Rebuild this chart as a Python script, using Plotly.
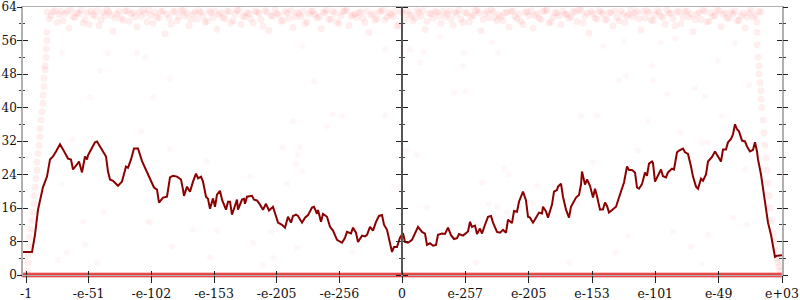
import plotly.graph_objects as go

# ---------------- data ----------------
tick_pos = [0, 62.7, 125.3, 188, 250.7, 313.3, 376, 439.3, 502.7, 566, 629.3, 692.7, 756]
tick_labels = ["-1", "-e-51", "-e-102", "-e-153", "-e-205", "-e-256", "0",
               "e-257", "e-205", "e-153", "e-101", "e-49", "e+03"]
y_ticks = [0, 8, 16, 24, 32, 40, 48, 56, 64]
y_minor = [4, 12, 20, 28, 36, 44, 52, 60]

line_x = [-3, 6, 9, 12, 17, 21, 24, 27, 30, 34, 37, 42, 45, 47, 51, 53, 56, 59, 61, 62, 64, 67, 69, 71, 74, 77, 80, 82, 84, 87,
          92, 96, 100, 102, 105, 108, 112, 116, 119, 122, 126, 128, 131, 133, 137, 141, 144, 147, 151, 155, 157, 158, 161, 164,
          167, 170, 172, 175, 177, 180, 182, 184, 187, 189, 191, 194, 196, 197, 200, 202, 204, 206, 208, 211, 212, 216, 218, 219,
          221, 226, 228, 231, 234, 237, 240, 243, 247, 249, 252, 256, 259, 262, 265, 267, 270, 272, 276, 279, 282, 286, 288, 291,
          292, 295, 297, 301, 304, 307, 311, 316, 319, 321, 325, 327, 330, 332, 336, 339, 341, 344, 347, 350, 353, 356, 358, 361,
          363, 366, 368, 371, 374, 377, 379, 382, 386, 389, 392, 396, 399, 401, 404, 407, 410, 412, 416, 419, 422, 425, 428, 431,
          433, 437, 440, 442, 444, 446, 449, 451, 454, 456, 459, 462, 465, 467, 471, 474, 477, 480, 482, 486, 488, 491, 493, 495,
          497, 500, 502, 504, 507, 511, 513, 516, 517, 520, 522, 526, 528, 531, 532, 535, 537, 540, 543, 545, 547, 550, 553, 555,
          556, 559, 561, 564, 567, 569, 571, 574, 577, 579, 581, 583, 587, 590, 593, 596, 598, 601, 603, 606, 609, 611, 613, 616,
          619, 621, 623, 626, 627, 629, 632, 635, 637, 640, 642, 646, 648, 651, 653, 657, 659, 662, 665, 667, 670, 672, 675, 677,
          680, 682, 686, 689, 692, 695, 697, 700, 702, 705, 707, 709, 711, 713, 716, 719, 721, 724, 727, 729, 731, 732, 735, 737,
          740, 742, 745, 747, 749, 751, 756]
line_y = [5.5, 5.5, 9.6, 15.6, 21, 23.5, 27.6, 28.3, 29.5, 31.2, 30, 27.8, 27.6, 25.2, 26.4, 27.1, 24.5, 28.3, 27.6, 28.6,
          29.5, 30.7, 31.7, 31.9, 30.7, 29.3, 28.3, 24.7, 22.8, 22.5, 21.3, 22.3, 25.9, 25.6, 27.6, 30.2, 30.2, 27.2, 25.7, 24,
          22.3, 20.9, 20.4, 17.3, 18.5, 18.7, 23.3, 23.7, 23.5, 22.8, 20.4, 18.9, 21.1, 19.9, 22.3, 24.2, 23.1, 23.5, 22.3, 18.7,
          18.2, 15.8, 18.3, 16.3, 19.2, 20.1, 18.0, 17.3, 15.6, 17.5, 17.5, 14.4, 16.1, 18, 15.6, 18, 18.2, 17, 18.7, 18.9,
          18, 17.8, 16.8, 15.6, 17, 15.4, 16.3, 14.9, 12.5, 12, 11.3, 13.9, 12.5, 14.1, 14.4, 14.1, 12.5, 13.7, 14.3, 16.1,
          16.3, 14.6, 15.5, 12.7, 14.6, 13.9, 11.5, 10.6, 8.4, 7.7, 8.9, 10.3, 9.9, 11.3, 10.1, 7.9, 9.4, 9.2, 9.6, 11.5,
          10.6, 12.7, 14.1, 14.3, 12, 10.8, 8.9, 5.5, 6.7, 6.7, 8.9, 10, 7.9, 7.7, 8.4, 10, 11.5, 10.3, 9.9, 7.2,
          7.6, 7, 7.2, 9.6, 9.9, 9.8, 11.3, 9.5, 8.6, 8.8, 9.8, 9.4, 10, 10.4, 12.7, 11.5, 11.8, 9.8, 11.1, 9.9,
          12, 13.9, 14.1, 12.5, 10.3, 10.1, 10.8, 10.1, 13.2, 12.4, 15.3, 15.1, 17.5, 18.5, 19.9, 17.8, 13.9, 13.7, 12.5, 14.1,
          14.9, 14.7, 16.3, 15.2, 13.7, 16.8, 19.9, 20.3, 21.1, 21.8, 18.7, 15.6, 13.7, 16.3, 17.1, 18.5, 19.1, 21.6, 24.7, 21.6,
          22.8, 21.3, 18.5, 20.6, 18.8, 15.6, 15.7, 17.3, 16.5, 14.9, 15.7, 16.3, 18.5, 20.4, 22.1, 25.9, 25.1, 25.1, 24.5, 20.9,
          20.6, 21.7, 24.5, 23.7, 26.6, 27.1, 26.7, 22.3, 23.9, 25.2, 23.6, 23.3, 24.5, 25.4, 25.2, 29.3, 29.7, 30.2, 29.3, 28.9,
          25.9, 23.5, 21.1, 20.6, 23, 22.5, 24, 27.1, 28.2, 29.5, 28.3, 27.1, 30, 30, 31.7, 32.5, 33.6, 36, 34.8, 34.3,
          32.1, 31.9, 30.7, 29.5, 29.9, 31.7, 29.5, 27.6, 24, 20.4, 16.3, 12.5, 9.6, 6.7, 4.3, 4.6, 4.7]
assert len(line_x) == len(line_y), (len(line_x), len(line_y))

# sample bins for the dense band near the top
band_bins = list(range(21, 737, 4))
band_a = [62.8, 61.9, 63.1, 62.2, 60.7, 62.9, 63.3, 61.5, 62.4, 60.2,
          62.6, 63.0, 61.8, 59.6, 62.7, 63.2, 62.1, 61.3, 62.9, 60.9,
          63.1, 62.4, 61.6, 62.8, 63.3, 60.5, 62.0, 62.7, 61.4, 63.0,
          62.3, 59.9, 62.9, 61.7, 63.2, 62.5, 61.0, 62.8, 63.1, 61.9,
          60.6, 62.6, 63.0, 62.2, 61.5, 62.9, 60.1, 62.4, 63.2, 61.8,
          62.7, 61.2, 63.0, 62.5, 59.4, 62.8, 61.9, 63.3, 62.1, 60.8,
          62.6, 63.1, 61.6, 62.3, 62.9, 60.4, 63.0, 62.2, 61.7, 62.8,
          63.2, 61.1, 62.5, 60.0, 62.9, 63.1, 61.8, 62.4, 62.7, 61.3,
          63.0, 62.1, 60.9, 62.8, 63.3, 61.6, 62.2, 62.9, 59.7, 62.6,
          63.1, 62.0, 61.4, 62.7, 63.2, 60.6, 62.4, 62.9, 61.9, 63.0,
          62.3, 61.2, 62.8, 63.3, 60.3, 62.5, 61.8, 63.1, 62.6, 61.0,
          62.9, 63.2, 61.5, 62.2, 60.8, 62.7, 63.0, 61.7, 62.4, 59.8,
          62.8, 63.1, 62.0, 61.3, 62.9, 63.3, 60.5, 62.6, 61.9, 63.0,
          62.2, 61.6, 62.8, 63.2, 60.2, 62.5, 62.9, 61.4, 63.1, 62.3,
          61.1, 62.7, 63.0, 60.7, 62.4, 61.8, 63.3, 62.6, 61.2, 62.9,
          63.1, 60.9, 62.1, 62.8, 61.5, 63.2, 62.5, 59.5, 62.9, 61.7,
          63.0, 62.3, 61.0, 62.7, 63.3, 60.4, 62.6, 61.9, 63.1, 62.2,
          61.4, 62.8, 63.0, 60.8, 62.5, 61.6, 63.2, 62.0, 62.9]
band_b = [61.2, 62.9, 60.3, 63.0, 62.4, 58.9, 61.7, 62.6, 63.2, 61.0,
          59.8, 62.2, 63.1, 60.9, 61.9, 62.8, 58.2, 62.4, 61.3, 63.0,
          60.6, 62.7, 59.3, 61.8, 62.5, 63.2, 60.1, 61.6, 62.9, 57.6,
          61.4, 62.8, 60.7, 63.1, 61.9, 59.5, 62.3, 61.1, 62.7, 60.4,
          63.0, 61.5, 58.7, 62.6, 61.2, 62.9, 60.8, 63.2, 59.9, 61.7,
          62.4, 60.2, 62.8, 61.0, 63.1, 58.4, 61.8, 62.5, 60.6, 62.9,
          61.3, 59.1, 62.7, 61.6, 60.0, 62.3, 63.0, 61.4, 58.8, 62.6,
          61.1, 62.9, 60.5, 61.9, 63.2, 59.6, 62.1, 61.5, 62.8, 60.3,
          57.9, 62.4, 61.2, 63.0, 60.9, 62.6, 61.7, 59.4, 62.9, 61.0,
          62.2, 60.7, 63.1, 61.8, 58.6, 62.5, 61.3, 62.8, 60.1, 61.6,
          63.0, 59.7, 62.3, 61.1, 62.7, 60.4, 61.9, 63.2, 58.3, 62.4,
          61.4, 62.9, 60.8, 61.7, 62.6, 59.2, 63.0, 61.2, 60.6, 62.8,
          61.9, 58.9, 62.5, 61.0, 63.1, 60.2, 61.6, 62.7, 59.8, 62.3,
          61.3, 62.9, 60.5, 63.2, 61.8, 57.8, 62.4, 61.1, 62.8, 60.9,
          62.6, 59.5, 61.5, 63.0, 60.3, 62.2, 61.7, 62.9, 58.5, 61.4,
          62.7, 60.7, 63.1, 61.9, 59.9, 62.5, 61.2, 62.8, 60.0, 63.0,
          61.6, 58.1, 62.3, 61.0, 62.9, 60.6, 61.8, 63.2, 59.3, 62.6,
          61.3, 62.4, 60.8, 61.9, 59.0, 62.7, 61.5, 60.4, 62.8]
assert len(band_bins) == len(band_a) == len(band_b)

# samples sitting at zero across the whole range
zero_bins = list(range(-3, 757, 2))

# rising / falling edges and sparse outliers
edge_x = [1, 2, 2, 3, 4, 5, 6, 7, 8, 8, 9, 10, 11, 11, 12, 13, 14, 14, 15, 16, 17, 17, 18, 18, 19, 19, 20, 20, 21, 21,
          731, 731, 732, 733, 733, 734, 735, 735, 736, 737, 738, 739, 740, 741, 742, 743, 744, 745, 747, 748, 749, 751,
          752, 753, 754]
edge_y = [1, 3, 5, 7, 9, 11, 13, 15, 17, 19, 21, 23, 25, 27, 29, 31, 33, 35, 37, 39, 41, 43, 45, 47, 49, 50, 52, 54, 56, 58,
          58, 55, 52, 50, 48, 46, 44, 42, 40, 37, 34, 31, 28, 25, 22, 19, 16, 13, 10, 8, 6, 4, 3, 2, 1]
sparse_x = [74, 36, 82, 111, 119, 127, 144, 64, 57, 59, 41, 32, 77, 71, 122, 146, 167, 36, 47, 74, 115,
            144, 181, 224, 124, 191, 184, 227, 237, 267, 301, 307, 316, 359, 257, 274, 272, 270, 276, 261, 251,
            245, 327, 271, 247, 326, 373, 380, 391, 401, 456, 478, 483, 463, 471, 481, 450, 377, 555, 571, 622,
            612, 567, 511, 506, 551, 602, 589, 543, 655, 676, 682, 696, 719, 707, 721, 647, 682, 665, 676, 577,
            598, 626, 600, 593, 627, 692, 669, 641, 723, 679, 649, 635, 709, 276, 288, 359, 384, 397, 394, 438,
            437, 472, 428, 440, 466, 414]
sparse_y = [48.7, 53, 53, 53, 52, 42.4, 47, 42.4, 12.7, 7.2, 5.3, 3.6, 15.1, 2.9, 12.7, 6.7, 10.8, 21.6, 32.4, 27.6, 34.3,
            30, 27.1, 23.5, 12.5, 10.6, 4.3, 7.7, 2.4, 36.7, 35.5, 38.4, 37.9, 38.1, 30.5, 30.5, 28.8, 26.4, 24.7, 21.8, 17.3,
            10.3, 11.3, 6.5, 4.1, 5.5, 21.1, 29.7, 28.8, 16.1, 22.1, 25.4, 24, 17, 16.3, 14.9, 2.9, 11.3, 37.9, 38.1, 36.7,
            29.7, 26.9, 21.3, 17.3, 17.3, 9.4, 5.3, 2.9, 34, 31.7, 31.7, 37.9, 25.4, 13.7, 12, 10.3, 9.6, 6.7, 2.6, 54.7,
            55.9, 49.9, 47.5, 46.5, 46.5, 51.1, 44.6, 43.2, 45.3, 42.7, 56.4, 55.6, 55.4, 54.7, 46.3, 54, 54, 53.2, 50.8, 53,
            49.9, 53, 43.6, 43.9, 55.6, 56.8]
assert len(sparse_x) == len(sparse_y) and len(edge_x) == len(edge_y)

# ---------------- figure ----------------
FONT = dict(family="DejaVu Serif, Liberation Serif, serif", size=12.5, color="#111")
YFONT = dict(family="DejaVu Serif, Liberation Serif, serif", size=12, color="#111")
pink = dict(size=7, color="rgba(255,40,40,0.08)", line=dict(width=0))

fig = go.Figure()
fig.add_trace(go.Scatter(x=zero_bins, y=[0] * len(zero_bins), mode="markers", cliponaxis=False,
                         marker=dict(size=5, color="rgba(225,30,30,0.55)", line=dict(width=0)),
                         hoverinfo="skip"))
fig.add_trace(go.Scatter(x=band_bins, y=band_a, mode="markers", cliponaxis=False, marker=pink, hoverinfo="skip"))
fig.add_trace(go.Scatter(x=[b + 2 for b in band_bins], y=band_b, mode="markers", cliponaxis=False, marker=pink,
                         hoverinfo="skip"))
fig.add_trace(go.Scatter(x=edge_x, y=edge_y, mode="markers", cliponaxis=False, marker=pink, hoverinfo="skip"))
fig.add_trace(go.Scatter(x=sparse_x, y=sparse_y, mode="markers", cliponaxis=False,
                         marker=dict(size=6, color="rgba(255,40,40,0.04)", line=dict(width=0)), hoverinfo="skip"))
fig.add_trace(go.Scatter(x=line_x, y=line_y, mode="lines", line=dict(color="#8b0000", width=2), hoverinfo="skip"))

XR = [-3, 756]
YR = [0, 64]
mid_pos = (376 - XR[0]) / (XR[1] - XR[0])


def yax(**kw):
    d = dict(range=YR, tickvals=y_ticks, showgrid=False, zeroline=False, tickcolor="#222", tickwidth=1,
             fixedrange=True, automargin=False, ticklabeloverflow="allow")
    d.update(kw)
    return d


def minor(side, ln):
    return dict(ticks=side, ticklen=ln, tickvals=y_minor, tickcolor="#444", tickwidth=1, showgrid=False)


fig.update_layout(
    width=800, height=300, margin=dict(l=23, r=18, t=7, b=25, autoexpand=False),
    paper_bgcolor="white", plot_bgcolor="white", showlegend=False, font=FONT,
    xaxis=dict(range=XR, tickvals=tick_pos, ticktext=tick_labels, ticks="outside", ticklen=7,
               tickcolor="#222", tickwidth=1, showgrid=False, zeroline=False, showline=True,
               linecolor="#b0b0b0", linewidth=1, mirror=True, tickfont=FONT, automargin=False,
               ticklabeloverflow="allow"),
    xaxis2=dict(range=XR, overlaying="x", anchor="y", side="bottom", tickvals=tick_pos, ticks="inside",
                ticklen=4, tickcolor="#222", showticklabels=False, showgrid=False, zeroline=False,
                showline=False, automargin=False),
    # labelled left axis (short ticks so labels sit close to the line)
    yaxis=yax(ticks="outside", ticklen=2, showline=True, linecolor="#b0b0b0", linewidth=1.5,
              mirror=True, tickfont=YFONT, minor=minor("outside", 2)),
    yaxis2=yax(overlaying="y", anchor="x", side="left", ticks="inside", ticklen=5,
               showticklabels=False, showline=False, minor=minor("inside", 2)),
    yaxis7=yax(overlaying="y", anchor="x", side="left", ticks="outside", ticklen=5,
               showticklabels=False, showline=False),
    yaxis3=yax(overlaying="y", anchor="x", side="right", ticks="outside", ticklen=5,
               showticklabels=False, showline=False, minor=minor("outside", 3)),
    yaxis4=yax(overlaying="y", anchor="x", side="right", ticks="inside", ticklen=5,
               showticklabels=False, showline=False, minor=minor("inside", 3)),
    yaxis5=yax(overlaying="y", anchor="free", position=mid_pos, side="left", ticks="outside",
               ticklen=5, showticklabels=False, showline=True, linecolor="#555", linewidth=1.5,
               minor=minor("outside", 2)),
    yaxis6=yax(overlaying="y", anchor="free", position=mid_pos, side="right", ticks="outside",
               ticklen=5, showticklabels=False, showline=False, minor=minor("outside", 2)),
)

# invisible anchor traces so every overlay axis is drawn
for xa, ya in [("x2", "y"), ("x", "y2"), ("x", "y3"), ("x", "y4"), ("x", "y5"), ("x", "y6"), ("x", "y7")]:
    fig.add_trace(go.Scatter(x=[None], y=[None], xaxis=xa, yaxis=ya, mode="markers", hoverinfo="skip",
                             showlegend=False))

fig.write_html("out.html")
